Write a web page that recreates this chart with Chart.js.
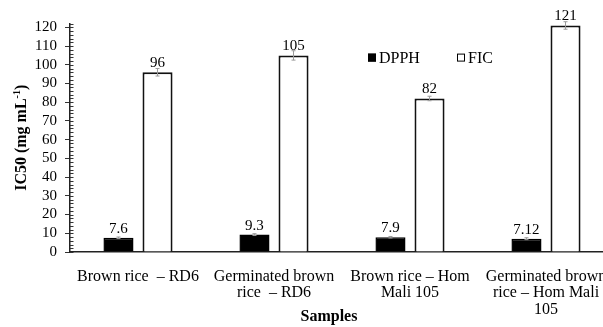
<!DOCTYPE html>
<html>
<head>
<meta charset="utf-8">
<script src="https://cdn.jsdelivr.net/npm/chart.js@4"></script>
<style>
  html, body { margin: 0; padding: 0; overflow: hidden; background: #fff; }
  #wrap { width: 615px; height: 327px; position: relative; }
</style>
</head>
<body>
<div id="wrap"><canvas id="myChart"></canvas></div>
<script>
// data
let categories = [
  "Brown rice  \u2013 RD6",
  ["Germinated brown", "rice  \u2013 RD6"],
  ["Brown rice \u2013 Hom", "Mali 105"],
  ["Germinated brown", "rice \u2013 Hom Mali", "105"]
];
let dpphValues = [7.6, 9.3, 7.9, 7.12];
let ficValues = [96, 105, 82, 121];
let dpphErrors = [0.4, 0.5, 0.4, 0.5];
let ficErrors = [2, 2.5, 1.2, 2];
let yMax = 122;

let serif = "'Liberation Serif', 'Times New Roman', serif";

// error bars, value labels, minor ticks, legend and axis titles
let barExtras = {
  id: "barExtras",
  afterDatasetsDraw(chart) {
    let ctx = chart.ctx;
    let y = chart.scales.y;
    let errs = [dpphErrors, ficErrors];
    chart.data.datasets.forEach(function(ds, i) {
      let meta = chart.getDatasetMeta(i);
      meta.data.forEach(function(bar, j) {
        let v = ds.data[j];
        let e = errs[i][j];
        let yTop = y.getPixelForValue(v + e);
        let yBot = y.getPixelForValue(v - e);
        ctx.save();
        ctx.strokeStyle = "#9a9a9a";
        ctx.lineWidth = 1;
        ctx.beginPath();
        ctx.moveTo(bar.x, yTop); ctx.lineTo(bar.x, yBot);
        ctx.moveTo(bar.x - 2, yTop); ctx.lineTo(bar.x + 2, yTop);
        ctx.moveTo(bar.x - 2, yBot); ctx.lineTo(bar.x + 2, yBot);
        ctx.stroke();
        ctx.fillStyle = "#000";
        ctx.font = "15px " + serif;
        ctx.textAlign = "center";
        ctx.textBaseline = "alphabetic";
        ctx.fillText(String(v), bar.x, bar.y - 5);
        ctx.restore();
      });
    });
  },
  afterDraw(chart) {
    let ctx = chart.ctx;
    let a = chart.chartArea;
    let y = chart.scales.y;
    ctx.save();
    // minor ticks inside the axis
    ctx.strokeStyle = "#333";
    ctx.lineWidth = 1;
    ctx.beginPath();
    y.ticks.forEach(function(t) {
      let py = Math.round(y.getPixelForValue(t.value)) + 0.5;
      ctx.moveTo(a.left, py); ctx.lineTo(a.left + 3.5, py);
    });
    ctx.stroke();
    // legend
    ctx.font = "16px " + serif;
    ctx.textBaseline = "middle";
    ctx.textAlign = "left";
    let lx = a.left + 298, ly = a.top + 34;
    chart.data.datasets.forEach(function(ds, i) {
      let x = lx + i * 89;
      ctx.fillStyle = ds.backgroundColor;
      ctx.strokeStyle = "#000";
      ctx.lineWidth = 1;
      ctx.fillRect(x, ly - 4, 8, 8);
      ctx.strokeRect(x + 0.5, ly - 3.5, 7, 7);
      ctx.fillStyle = "#000";
      ctx.fillText(ds.label, x + 11, ly + 1);
    });
    // x title
    ctx.font = "bold 16px " + serif;
    ctx.textAlign = "center";
    ctx.fillText("Samples", a.left + 259, 317);
    // y title with superscript
    ctx.translate(22, (a.top + a.bottom) / 2);
    ctx.rotate(-Math.PI / 2);
    let p1 = "IC50 (mg mL", sup = "-1", p2 = ")";
    let f1 = "bold 16px " + serif, f2 = "bold 10px " + serif;
    ctx.font = f1; let w1 = ctx.measureText(p1).width, w3 = ctx.measureText(p2).width;
    ctx.font = f2; let w2 = ctx.measureText(sup).width;
    let x0 = -(w1 + w2 + w3) / 2;
    ctx.textAlign = "left";
    ctx.font = f1; ctx.fillText(p1, x0, 0);
    ctx.font = f2; ctx.fillText(sup, x0 + w1, -5);
    ctx.font = f1; ctx.fillText(p2, x0 + w1 + w2, 0);
    ctx.restore();
  }
};

new Chart(document.getElementById("myChart"), {
  type: "bar",
  data: {
    labels: categories,
    datasets: [
      { label: "DPPH", data: dpphValues, backgroundColor: "#000", borderColor: "#000", borderWidth: 1.5 },
      { label: "FIC", data: ficValues, backgroundColor: "#fff", borderColor: "#111", borderWidth: 2 }
    ]
  },
  options: {
    responsive: true,
    maintainAspectRatio: false,
    animation: false,
    categoryPercentage: 0.574,
    barPercentage: 0.77,
    layout: { padding: { top: 23.6, right: 1, left: 0, bottom: 0 } },
    plugins: { legend: { display: false }, tooltip: { enabled: false } },
    scales: {
      x: {
        grid: { display: false },
        border: { display: true, color: "#222", width: 1.5 },
        ticks: { color: "#000", font: { family: serif, size: 16, lineHeight: 1.05 }, padding: 8, maxRotation: 0, autoSkip: false },
        afterFit: function(s) { s.height = 75; }
      },
      y: {
        min: 0,
        max: yMax,
        grid: {
          drawOnChartArea: false,
          drawTicks: true,
          tickLength: 5,
          color: function(c) { return c.tick && c.tick.value % 10 === 0 ? "#333" : "rgba(0,0,0,0)"; }
        },
        border: { display: true, color: "#222", width: 1.5 },
        ticks: {
          stepSize: 2,
          color: "#000",
          font: { family: serif, size: 15 },
          padding: 8,
          autoSkip: false,
          callback: function(v) { return v % 10 === 0 ? v : ""; }
        },
        afterFit: function(s) { s.width = 70; }
      }
    }
  },
  plugins: [barExtras]
});
</script>
</body>
</html>
